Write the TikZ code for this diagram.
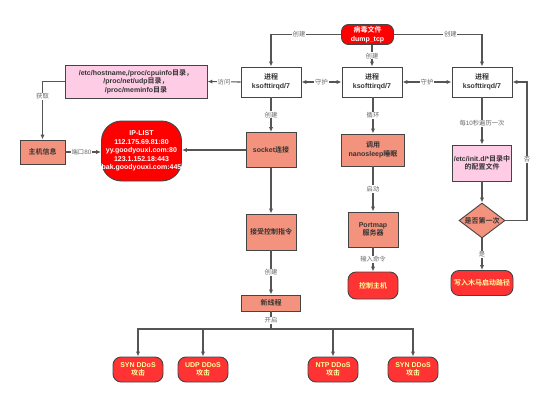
\documentclass[tikz,border=0pt]{standalone}
\usepackage{fontspec}
\setmainfont{Liberation Sans}
\newfontfamily\cjk{Noto Sans CJK SC}[BoldFont={Noto Sans CJK SC Bold}]
\newcommand{\zh}[1]{{\cjk #1}}
\usetikzlibrary{arrows.meta,shapes.geometric}
\definecolor{salmon}{HTML}{F3937D}
\definecolor{pinkfill}{HTML}{FFCCE6}
\definecolor{redA}{HTML}{FF0000}
\definecolor{redB}{HTML}{FF3333}
\definecolor{edgec}{HTML}{555555}
\definecolor{borderc}{HTML}{444444}
\definecolor{labc}{HTML}{666666}
\definecolor{paleyel}{HTML}{FFFF99}
\tikzset{
  base/.style={draw=borderc, line width=0.9pt, inner sep=0pt, align=center,
    font=\fontsize{7}{8.5}\selectfont\bfseries, text=black!80},
  whitebox/.style={base, fill=white, minimum width=60pt, minimum height=30pt},
  salbox/.style={base, fill=salmon},
  pinkbox/.style={base, fill=pinkfill},
  redpill/.style={base, fill=redB, rounded corners=8pt, text=paleyel, minimum width=50pt},
  redbig/.style={base, fill=redA, text=white},
  edge/.style={draw=edgec, line width=1.1pt, -{Latex[length=5pt,width=4.2pt]}},
  dedge/.style={draw=edgec, line width=1.1pt, {Latex[length=5pt,width=4.2pt]}-{Latex[length=5pt,width=4.2pt]}},
  plain/.style={draw=edgec, line width=1.1pt},
  lab/.style={fill=white, inner sep=0.8pt, text=labc, font=\fontsize{6.3}{7}\selectfont}
}
\begin{document}
\begin{tikzpicture}[x=1pt,y=-1pt]
\useasboundingbox (0,0) rectangle (553,404);
% nodes
\node[redbig, rounded corners=7pt, minimum width=52pt, minimum height=20pt] (virus) at (367.5,34.5) {\zh{病毒文件}\\dump\_tcp};
\node[whitebox] (p1) at (271,82) {\zh{进程}\\ksofttirqd/7};
\node[whitebox] (p2) at (372,82) {\zh{进程}\\ksofttirqd/7};
\node[whitebox] (p3) at (482,82) {\zh{进程}\\ksofttirqd/7};
\node[pinkbox, minimum width=142pt, minimum height=33pt] (files) at (136,81.5) {/etc/hostname,/proc/cpuinfo\zh{目录，}\\/proc/net/udp\zh{目录，}\\/proc/meminfo\zh{目录}};
\node[salbox, minimum width=45pt, minimum height=24pt] (host) at (42.5,152) {\zh{主机信息}};
\node[redbig, rounded corners=20pt, minimum width=80pt, minimum height=60pt] (ip) at (141.5,151) {IP-LIST\\112.175.69.81:80\\yy.goodyouxi.com:80\\123.1.152.18:443\\bak.goodyouxi.com:445};
\node[salbox, minimum width=50pt, minimum height=35pt] (sock) at (271,150) {socket\zh{连接}};
\node[salbox, minimum width=50pt, minimum height=36pt] (acc) at (271,232) {\zh{接受控制指令}};
\node[salbox, minimum width=59pt, minimum height=16pt] (thr) at (271,303) {\zh{新线程}};
\node[salbox, minimum width=63pt, minimum height=32pt] (sleep) at (373,150) {\zh{调用}\\nanosleep\zh{睡眠}};
\node[salbox, minimum width=50pt, minimum height=35pt] (pm) at (373,229.5) {Portmap\\\zh{服务器}};
\node[redpill, minimum height=27pt] (ctrl) at (373,285.5) {\zh{控制主机}};
\node[pinkbox, minimum width=59pt, minimum height=36pt] (initd) at (482,163) {/etc/init.d/*\zh{目录中}\\\zh{的配置文件}};
\node[salbox, diamond, aspect=1.3, minimum width=46pt, minimum height=35pt] (dia) at (482,220.5) {\zh{是否第一次}};
\node[redpill, minimum width=62pt, minimum height=25pt] (troj) at (482,283) {\zh{写入木马启动路径}};
\node[redpill, minimum height=25pt] (d1) at (138,369.5) {SYN DDoS\\\zh{攻击}};
\node[redpill, minimum height=25pt] (d2) at (203,369.5) {UDP DDoS\\\zh{攻击}};
\node[redpill, minimum height=25pt] (d3) at (333,369.5) {NTP DDoS\\\zh{攻击}};
\node[redpill, minimum height=25pt] (d4) at (413,369.5) {SYN DDoS\\\zh{攻击}};
\coordinate (nr) at (527,220.5);
\coordinate (fan) at (271,329);
% edges
\draw[edge] (virus.west) -| node[lab,pos=0.3]{\zh{创建}} (p1.north);
\draw[edge] (virus.east) -| node[lab,pos=0.32]{\zh{创建}} (p3.north);
\draw[edge] (p2.north |- virus.south) -- node[lab]{\zh{创建}} (p2.north);
\draw[dedge] (p1.east) -- node[lab]{\zh{守护}} (p2.west);
\draw[dedge] (p2.east) -- node[lab]{\zh{守护}} (p3.west);
\draw[edge] (p1.west) -- node[lab]{\zh{访问}} (files.east);
\draw[edge] (files.west) -| node[lab,pos=0.63]{\zh{获取}} (host.north);
\draw[edge] (host.east) -- node[lab,pos=0.45]{\zh{端口}80} (host.east -| ip.west);
\draw[edge] (sock.west) -- (sock.west -| ip.east);
\draw[edge] (p1.south) -- node[lab]{\zh{创建}} (sock.north);
\draw[edge] (sock.south) -- (acc.north);
\draw[edge] (acc.south) -- node[lab]{\zh{创建}} (thr.north);
\draw[plain] (thr.south) -- node[lab]{\zh{开启}} (fan);
\draw[edge] (fan) -| (d1.north);
\draw[edge] (fan) -| (d2.north);
\draw[edge] (fan) -| (d3.north);
\draw[edge] (fan) -| (d4.north);
\draw[edge] (p2.south -| sleep.north) -- node[lab]{\zh{循环}} (sleep.north);
\draw[edge] (sleep.south) -- node[lab]{\zh{启动}} (pm.north);
\draw[edge] (pm.south) -- node[lab]{\zh{输入命令}} (ctrl.north);
\draw[edge] (p3.south) -- node[lab,pos=0.55]{\zh{每}10\zh{秒遍历一次}} (initd.north);
\draw[edge] (initd.south) -- (dia.north);
\draw[edge] (dia.south) -- node[lab]{\zh{是}} (troj.north);
\draw[plain] (dia.east) -- (nr);
\draw[edge] (nr) |- node[lab,pos=0.22]{\zh{否}} (p3.east);
\end{tikzpicture}
\end{document}
